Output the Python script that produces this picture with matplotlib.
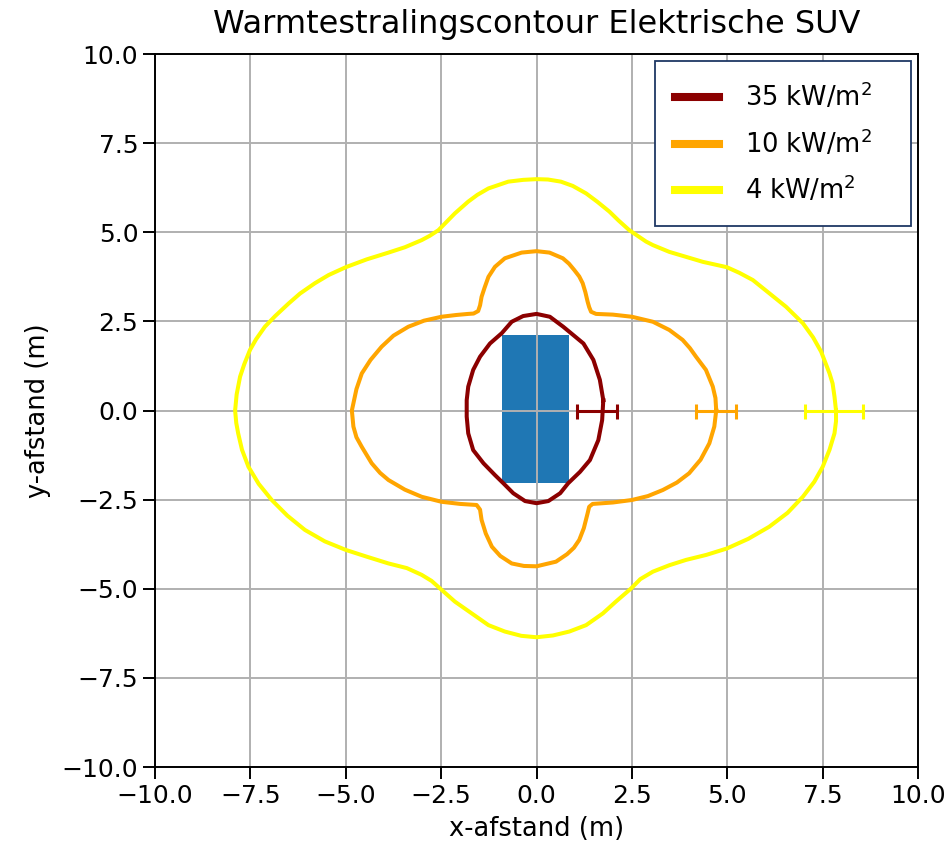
import matplotlib
matplotlib.use("Agg")
import matplotlib.pyplot as plt
from matplotlib.patches import Rectangle

# Contour 35 kW/m2
x35 = [1.75, 1.66, 1.49, 1.23, 0.96, 0.70, 0.35, 0.0, -0.35, -0.65, -0.91, -1.22,
       -1.48, -1.66, -1.79, -1.83, -1.83, -1.79, -1.66, -1.39, -1.09, -0.87, -0.61,
       -0.30, 0.0, 0.31, 0.62, 0.83, 1.14, 1.40, 1.62, 1.72, 1.75]
y35 = [0.29, 0.86, 1.42, 1.88, 2.12, 2.35, 2.63, 2.71, 2.65, 2.49, 2.17, 1.88,
       1.51, 1.14, 0.67, 0.29, -0.17, -0.64, -1.11, -1.48, -1.81, -2.04, -2.32,
       -2.54, -2.60, -2.54, -2.32, -2.04, -1.72, -1.39, -0.83, -0.27, 0.29]

# Contour 10 kW/m2
x10 = [4.71, 4.69, 4.62, 4.44, 4.18, 4.02, 3.83, 3.48, 3.05, 2.50, 2.00, 1.56, 1.43,
       1.38, 1.34, 1.28, 1.21, 1.12, 0.99, 0.85, 0.69, 0.34, 0.0,
       -0.39, -0.83, -1.09, -1.26, -1.36, -1.44, -1.48, -1.53, -1.65, -1.79, -2.10,
       -2.49, -2.95, -3.36, -3.75, -4.06, -4.35, -4.58, -4.72, -4.80, -4.84,
       -4.80, -4.72, -4.58, -4.32, -4.10, -3.88, -3.45, -3.01, -2.49, -2.00, -1.57,
       -1.48, -1.44, -1.33, -1.17, -0.95, -0.65, -0.33, 0.0,
       0.51, 0.80, 0.98, 1.12, 1.24, 1.34, 1.38, 1.47, 2.00, 2.50, 2.92, 3.31, 3.68,
       4.00, 4.30, 4.53, 4.66, 4.71]
y10 = [0.0, 0.35, 0.67, 1.14, 1.51, 1.75, 1.98, 2.26, 2.49, 2.63, 2.69, 2.71, 2.77,
       2.90, 3.05, 3.32, 3.57, 3.76, 3.94, 4.12, 4.27, 4.43, 4.47,
       4.43, 4.27, 4.03, 3.75, 3.45, 3.19, 2.95, 2.79, 2.72, 2.71, 2.68,
       2.63, 2.52, 2.35, 2.10, 1.79, 1.42, 1.04, 0.60, 0.20, 0.0,
       -0.45, -0.75, -1.02, -1.48, -1.75, -1.95, -2.22, -2.42, -2.56, -2.62, -2.65,
       -2.78, -3.07, -3.45, -3.82, -4.08, -4.29, -4.36, -4.37,
       -4.24, -4.03, -3.85, -3.63, -3.30, -2.88, -2.70, -2.62, -2.58, -2.51, -2.40,
       -2.23, -2.02, -1.76, -1.38, -0.92, -0.45, 0.0]

# Contour 4 kW/m2
x4 = [7.85, 7.81, 7.76, 7.68, 7.46, 7.25, 6.98, 6.54, 6.10, 5.67, 5.32, 4.99, 4.36,
      3.92, 3.48, 3.05, 2.87, 2.43, 2.15, 1.91, 1.60, 1.30, 0.95, 0.64, 0.30, 0.0,
      -0.35, -0.74, -1.26, -1.55, -1.79, -2.14, -2.57, -2.80, -3.01, -3.45, -3.88,
      -4.45, -5.00, -5.45, -5.81, -6.20, -6.50, -6.85, -7.12, -7.35, -7.51, -7.66,
      -7.77, -7.86, -7.90,
      -7.87, -7.82, -7.72, -7.55, -7.28, -6.94, -6.53, -6.07, -5.55, -5.00, -4.45,
      -3.88, -3.40, -3.01, -2.75, -2.53, -2.14, -1.70, -1.26, -0.83, -0.40, 0.0,
      0.43, 0.86, 1.30, 1.74, 2.08, 2.48, 2.72, 3.05, 3.48, 3.92, 4.45, 4.99, 5.55,
      6.10, 6.58, 6.98, 7.28, 7.50, 7.68, 7.81, 7.85, 7.85]
y4 = [0.0, 0.39, 0.76, 1.04, 1.65, 2.05, 2.45, 2.91, 3.29, 3.66, 3.86, 4.02, 4.17,
      4.31, 4.45, 4.64, 4.74, 5.06, 5.33, 5.58, 5.85, 6.09, 6.30, 6.42, 6.48, 6.49,
      6.47, 6.42, 6.23, 6.05, 5.86, 5.53, 5.06, 4.90, 4.78, 4.58, 4.43,
      4.24, 4.02, 3.80, 3.57, 3.28, 3.00, 2.65, 2.35, 2.00, 1.70, 1.30,
      0.95, 0.45, 0.0,
      -0.35, -0.64, -1.10, -1.58, -2.06, -2.51, -2.95, -3.35, -3.67, -3.91, -4.10,
      -4.29, -4.42, -4.61, -4.78, -4.99, -5.36, -5.69, -6.02, -6.20, -6.32, -6.36,
      -6.31, -6.20, -6.02, -5.69, -5.36, -4.99, -4.73, -4.52, -4.34, -4.19, -4.05,
      -3.87, -3.60, -3.26, -2.87, -2.42, -2.00, -1.58, -1.10, -0.64, -0.30, 0.0]

# Distance ranges along the x axis (centre, half-width)
range_centers = [1.58, 4.70, 7.80]
range_errors = [0.52, 0.53, 0.75]

# Vehicle footprint
car_x0, car_x1 = -0.90, 0.85
car_y0, car_y1 = -2.03, 2.12

labels = ["35 kW/m$^2$   ", "10 kW/m$^2$   ", "4 kW/m$^2$"]
colors = ["darkred", "orange", "yellow"]

plt.rcParams["mathtext.fontset"] = "dejavusans"

fig = plt.figure(figsize=(9.48, 8.48), dpi=100)
fig.subplots_adjust(left=0.1635, right=0.9684, bottom=0.0955, top=0.9363)
ax = fig.add_subplot(111)

ax.add_patch(Rectangle((car_x0, car_y0), car_x1 - car_x0, car_y1 - car_y0,
                       facecolor="#1f77b4", edgecolor="none", zorder=1))

lines = []
for xs, ys, c, lab in zip([x35, x10, x4], [y35, y10, y4], colors, labels):
    ln, = ax.plot(xs, ys, color=c, lw=2.9, label=lab, zorder=3,
                  solid_joinstyle="round")
    lines.append(ln)

for cx, err, c in zip(range_centers, range_errors, colors):
    ax.errorbar([cx], [0.0], xerr=[err], color=c, lw=2.2, capsize=5.4,
                capthick=2.2, fmt="none", zorder=4)

ax.set_xlim(-10, 10)
ax.set_ylim(-10, 10)
ticks = [-10, -7.5, -5, -2.5, 0, 2.5, 5, 7.5, 10]
ax.set_xticks(ticks)
ax.set_yticks(ticks)
ax.grid(True, color="#b0b0b0", lw=1.4)
ax.tick_params(labelsize=18, length=8.5, width=1.4)
for sp in ax.spines.values():
    sp.set_linewidth(1.4)

ax.set_xlabel("x-afstand (m)", fontsize=18.5, labelpad=6)
ax.set_ylabel("y-afstand (m)", fontsize=18.5, labelpad=8)
ax.set_title("Warmtestralingscontour Elektrische SUV", fontsize=23, pad=15)

leg = ax.legend(handles=lines, loc="upper right", fancybox=False, framealpha=1,
                edgecolor="#1f3864", fontsize=18.5,
                handlelength=1.7, borderaxespad=0.27, labelspacing=0.63,
                borderpad=0.8, handletextpad=1.0)
leg.get_frame().set_linewidth(1.3)
for h in leg.legend_handles:
    h.set_linewidth(5.8)

fig.savefig("out.png", dpi=100)
